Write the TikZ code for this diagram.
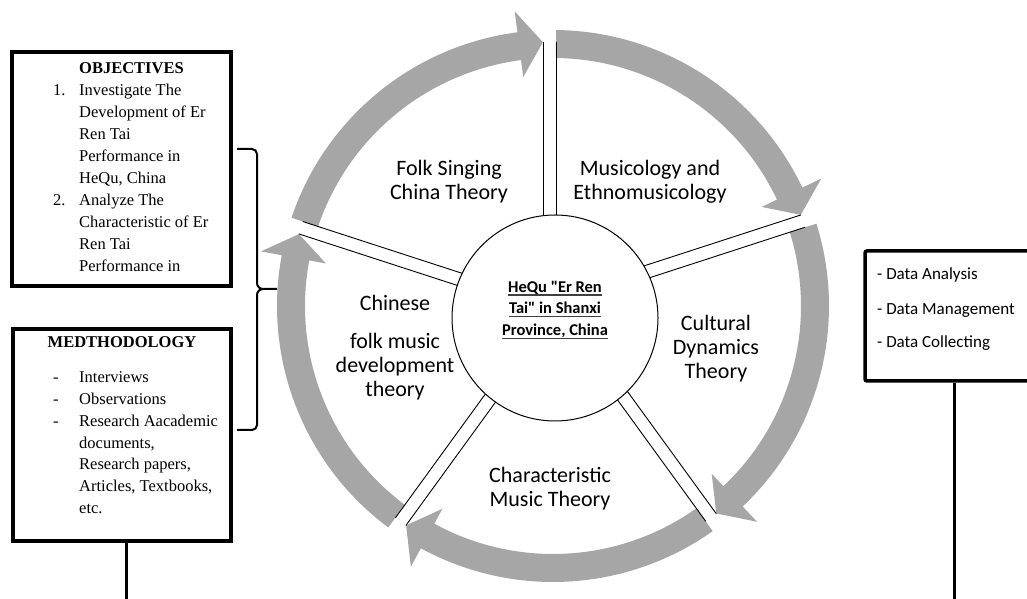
\documentclass[tikz,border=0pt]{standalone}
\usepackage{fontspec}
\setmainfont{Liberation Serif}
\newfontfamily\calib{Carlito}
\usetikzlibrary{calc}

\definecolor{ringgray}{RGB}{166,166,166}

% one gray arc of the cycle, drawn clockwise from #1 to the arrow tip near #2
\newcommand\cyclearc[2]{%
  \fill[ringgray] (#1:276) arc[start angle=#1, end angle={#2+7.4}, radius=276]
    -- ({#2+7.4}:297) -- ({#2+2.2}:264) -- ({#2+7.4}:231)
    -- ({#2+7.4}:248) arc[start angle={#2+7.4}, end angle=#1, radius=248] -- cycle;}

% underlined line of the hub caption
\newcommand\hubline[1]{\setbox0\hbox{#1}\rlap{\color{black!75}\rule[-3.5pt]{\wd0}{1.4pt}}\box0}

\tikzset{
  x=1pt, y=1pt,
  cyclelabel/.style={font=\calib\fontsize{22}{24}\selectfont, align=center, inner sep=0},
  framebox/.style={draw, line width=3.5, inner sep=0},
  serifbody/.style={font=\fontsize{16.5}{22}\selectfont, inner sep=0},
  datalabel/.style={font=\calib\fontsize{17}{19}\selectfont, inner sep=0, anchor=base west},
  stem/.style={line width=3},
  bracket/.style={line width=2},
  divider/.style={line width=0.9},
}

\begin{document}
\begin{tikzpicture}
\fill[white] (0,0) rectangle (1027,599);
\useasboundingbox (0,0) rectangle (1027,599);

% ring of five arrows
\begin{scope}[shift={(553,293)}]
  \cyclearc{89.35}{18}
  \cyclearc{17.35}{-54}
  \cyclearc{-54.65}{-126}
  \cyclearc{-126.65}{-198}
  \cyclearc{161.35}{90}
  \foreach \a in {90,18,-54,-126,162}
    \draw[divider, rotate=\a] (60,10) -- (264,10) (60,-3) -- (264,-3);
\end{scope}

% hub
\node[circle, draw, fill=white, line width=1, minimum size=206, inner sep=0] (hub) at (555,281) {};
\node[font=\calib\bfseries\fontsize{16.5}{21.7}\selectfont, align=center, inner sep=0] (hubtext) at (555,289)
  {\hubline{HeQu "Er Ren}\\\hubline{Tai" in Shanxi}\\\hubline{Province, China}};

% segment labels
\node[cyclelabel] (folk) at (449,417) {Folk Singing\\China Theory};
\node[cyclelabel] (musico) at (650,417) {Musicology and\\Ethnomusicology};
\node[cyclelabel] (cultural) at (716,250) {Cultural\\Dynamics\\Theory};
\node[cyclelabel] (charac) at (550,110) {Characteristic\\Music Theory};
\node[cyclelabel] (chinese) at (395,296) {Chinese};
\node[cyclelabel] (folkdev) at (395,232) {folk music\\development\\theory};

% objectives
\node[framebox, minimum width=219, minimum height=234] (obj) at (121.5,430) {};
\node[serifbody, anchor=base west] (objtext) at (53,525)
  {\begin{tabular}[t]{@{}p{26pt}@{}l@{}}
    & \textbf{OBJECTIVES}\\
    1. & Investigate The\\
    & Development of Er\\
    & Ren Tai\\
    & Performance in\\
    & HeQu, China\\
    2. & Analyze The\\
    & Characteristic of Er\\
    & Ren Tai\\
    & Performance in
  \end{tabular}};

% methodology
\node[framebox, minimum width=218, minimum height=212] (meth) at (122,164) {};
\node[serifbody, anchor=base] (methtitle) at (122,251) {\textbf{MEDTHODOLOGY}};
\node[serifbody, anchor=base west] (methtext) at (53,216)
  {\fontsize{16.5}{21.7}\selectfont\begin{tabular}[t]{@{}p{26pt}@{}l@{}}
    - & Interviews\\
    - & Observations\\
    - & Research Aacademic\\
    & documents,\\
    & Research papers,\\
    & Articles, Textbooks,\\
    & etc.
  \end{tabular}};
\coordinate (mfoot) at (126,-5);
\draw[stem] (mfoot |- meth.south) -- (mfoot);

% bracket joining the two boxes
\coordinate (brtop) at (237,450);
\coordinate (brtip) at (277,310);
\coordinate (brbot) at (237,169);
\draw[bracket] (brtop) -- (252,450) to[out=0,in=90] (257,445) -- (257,316)
  to[out=-90,in=180] (263,310) -- (brtip);
\draw[bracket] (263,310) to[out=180,in=90] (257,304) -- (257,174)
  to[out=-90,in=0] (252,169) -- (brbot);

% data box
\node[framebox, rounded corners=2, minimum width=180, minimum height=130] (data) at (955,283) {};
\node[datalabel] (d1) at (877,319) {- Data Analysis};
\node[datalabel] (d2) at (877,284) {- Data Management};
\node[datalabel] (d3) at (877,251) {- Data Collecting};
\coordinate (rfoot) at (954,-5);
\draw[stem] (rfoot |- data.south) -- (rfoot);
\end{tikzpicture}
\end{document}
